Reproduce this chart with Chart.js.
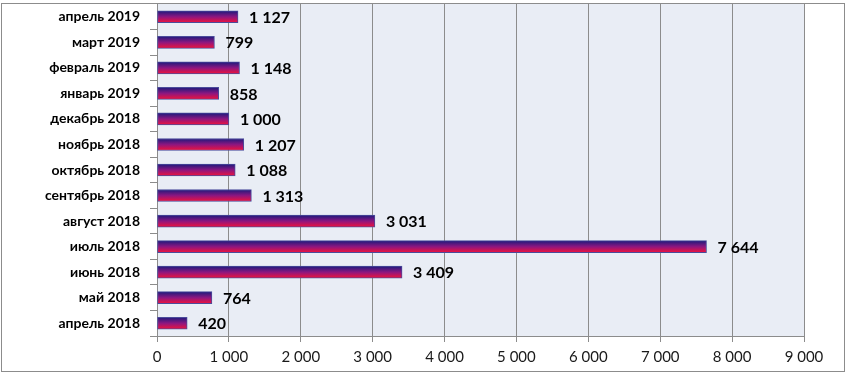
<!DOCTYPE html>
<html>
<head>
<meta charset="utf-8">
<script src="https://cdn.jsdelivr.net/npm/chart.js@4"></script>
<style>
  html, body { margin:0; padding:0; background:#fff; }
  #wrap { width:849px; height:376px; position:relative; }
</style>
</head>
<body>
<div id="wrap"><canvas id="chart" width="849" height="376"></canvas></div>
<script>
// months, chronological order (bottom -> top on the chart)
const months = ['апрель 2018','май 2018','июнь 2018','июль 2018','август 2018','сентябрь 2018',
  'октябрь 2018','ноябрь 2018','декабрь 2018','январь 2019','февраль 2019','март 2019','апрель 2019'];
const counts = [420, 764, 3409, 7644, 3031, 1313, 1088, 1207, 1000, 858, 1148, 799, 1127];
const xTicks = [0, 1000, 2000, 3000, 4000, 5000, 6000, 7000, 8000, 9000];

const FONT = 'Lato, "Noto Sans", sans-serif';
const BAR_H = 12;
const fmt = n => String(n).replace(/\B(?=(\d{3})+(?!\d))/g, ' ');

// frame + plot background
const framePlugin = {
  id: 'frame',
  beforeDraw(chart) {
    const c = chart.ctx, a = chart.chartArea;
    c.save();
    c.fillStyle = '#fff';
    c.fillRect(0, 0, chart.width, chart.height);
    c.fillStyle = '#e9edf5';
    c.fillRect(a.left, a.top, a.right - a.left, a.bottom - a.top);
    c.strokeStyle = '#8c8c8c';
    c.lineWidth = 1;
    c.strokeRect(1.5, 3.5, 843, 368);
    c.restore();
  }
};

// value labels right of each bar
const labelsPlugin = {
  id: 'valueLabels',
  afterDatasetsDraw(chart) {
    const c = chart.ctx;
    c.save();
    c.font = 'bold 16px ' + FONT;
    c.fillStyle = '#000';
    c.textBaseline = 'middle';
    chart.getDatasetMeta(0).data.forEach((bar, i) => {
      c.fillText(fmt(counts[i]), bar.x + 11, bar.y + 1);
    });
    c.restore();
  }
};

// blue -> red vertical gradient, one per bar
function barGradient(ctx) {
  const chart = ctx.chart;
  if (!chart.chartArea || ctx.dataIndex === undefined) return '#8a1c7c';
  const y = chart.scales.y.getPixelForValue(ctx.dataIndex);
  const g = chart.ctx.createLinearGradient(0, y - BAR_H / 2, 0, y + BAR_H / 2);
  g.addColorStop(0, '#1a1a7c');
  g.addColorStop(0.5, '#8c1680');
  g.addColorStop(1, '#f2123a');
  return g;
}

new Chart(document.getElementById('chart'), {
  type: 'bar',
  data: {
    labels: months,
    datasets: [{
      data: counts,
      backgroundColor: barGradient,
      borderColor: '#4b4b9b',
      borderWidth: 1,
      borderSkipped: false,
      barThickness: BAR_H
    }]
  },
  options: {
    indexAxis: 'y',
    responsive: false,
    animation: false,
    layout: { padding: { top: 4, right: 45, bottom: 4, left: 0 } },
    plugins: { legend: { display: false }, tooltip: { enabled: false } },
    scales: {
      x: {
        min: 0, max: 9000,
        afterBuildTicks: s => { s.ticks = xTicks.map(v => ({ value: v })); },
        grid: { color: '#8c8c8c', tickLength: 6, drawTicks: true },
        border: { color: '#8c8c8c' },
        ticks: {
          color: '#1a1a1a', padding: 6,
          font: { family: FONT, size: 15 },
          callback: v => fmt(v)
        },
        afterFit: s => { s.height = 36; }
      },
      y: {
        reverse: true,
        grid: { offset: true, drawOnChartArea: false, color: '#8c8c8c', tickLength: 7 },
        border: { color: '#8c8c8c' },
        ticks: {
          color: '#000', padding: 10,
          font: { family: FONT, size: 14, weight: 'bold' }
        },
        afterFit: s => { s.width = 157; s.paddingTop = 0; s.paddingBottom = 0; }
      }
    }
  },
  plugins: [framePlugin, labelsPlugin]
});
</script>
</body>
</html>
